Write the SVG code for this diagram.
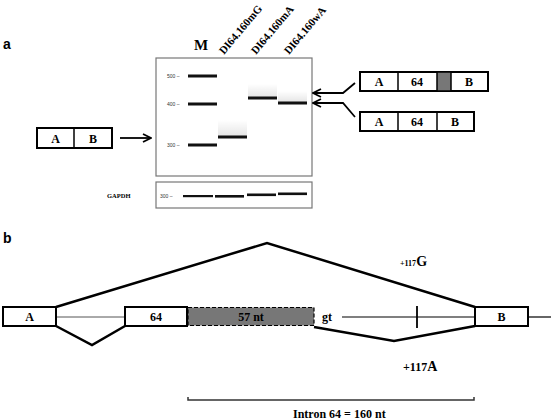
<svg xmlns="http://www.w3.org/2000/svg" width="553" height="420" viewBox="0 0 553 420">
<style>
.t{font-family:"Liberation Serif",serif;font-weight:bold;fill:#000}
.box{fill:#fff;stroke:#000;stroke-width:2}
.thin{stroke:#000;stroke-width:1.2;fill:none}
.th{stroke:#000;stroke-width:2.5;fill:none;stroke-linejoin:miter}
.band{fill:#111}
.lab{font-family:"Liberation Sans",sans-serif;font-weight:bold;font-size:14px}
.sm{font-family:"Liberation Sans",sans-serif;font-size:5px;fill:#333}
</style>
<defs>
<linearGradient id="smear" x1="0" y1="0" x2="0" y2="1">
<stop offset="0" stop-color="#000" stop-opacity="0"/>
<stop offset="1" stop-color="#000" stop-opacity="0.1"/>
</linearGradient>
<marker id="ah" markerWidth="10" markerHeight="10" refX="9" refY="5" orient="auto" markerUnits="userSpaceOnUse">
<path d="M1,1 L9,5 L1,9" fill="none" stroke="#000" stroke-width="1.8"/>
</marker>
</defs>
<rect width="553" height="420" fill="#fff"/>
<text class="lab" x="3" y="49">a</text>
<text class="lab" x="3" y="243">b</text>

<g id="gel">
<rect x="156" y="58" width="156" height="118" fill="#fff" stroke="#777" stroke-width="1.2"/>
<text class="sm" x="167" y="78">500 –</text>
<text class="sm" x="167" y="106">400 –</text>
<text class="sm" x="167" y="147">300 –</text>
<rect class="band" x="188" y="74.5" width="29" height="3"/>
<rect class="band" x="188" y="102.5" width="29" height="3"/>
<rect class="band" x="188" y="143.5" width="29" height="3"/>
<rect x="218" y="120" width="29" height="16" fill="url(#smear)"/>
<rect class="band" x="218" y="135.5" width="29" height="3"/>
<rect x="248" y="84" width="29" height="13" fill="url(#smear)"/>
<rect class="band" x="248" y="96.5" width="29" height="3"/>
<rect x="278" y="91" width="29" height="11" fill="url(#smear)"/>
<rect class="band" x="278" y="101.5" width="29" height="3"/>
<text class="t" x="194" y="50" font-size="15">M</text>
<text class="t" font-size="11" transform="translate(224,55) rotate(-50)">DI64.160mG</text>
<text class="t" font-size="11" transform="translate(256,55) rotate(-50)">DI64.160mA</text>
<text class="t" font-size="11" transform="translate(289,55) rotate(-50)">DI64.160wA</text>
</g>

<g id="gapdh">
<rect x="156" y="182" width="156" height="26" fill="#fff" stroke="#777" stroke-width="1.2"/>
<text class="t" x="107" y="198" font-size="6.5">GAPDH</text>
<text class="sm" x="160" y="198">300 –</text>
<rect class="band" x="183" y="195" width="30" height="2.2"/>
<rect class="band" x="215" y="195" width="29" height="2.6"/>
<rect class="band" x="247" y="193.5" width="29" height="2.6"/>
<rect class="band" x="278" y="192.5" width="29" height="2.6"/>
</g>

<g id="ab-left">
<rect class="box" x="37" y="128" width="75" height="20"/>
<line x1="74" y1="128" x2="74" y2="148" stroke="#000" stroke-width="1.5"/>
<text class="t" x="55.5" y="142.5" font-size="12" text-anchor="middle">A</text>
<text class="t" x="93" y="142.5" font-size="12" text-anchor="middle">B</text>
</g>

<g id="a64gb">
<rect class="box" x="360" y="72" width="128" height="19"/>
<rect x="437" y="72" width="14" height="19" fill="#777" stroke="#000" stroke-width="1.5"/>
<line x1="398" y1="72" x2="398" y2="91" stroke="#000" stroke-width="1.5"/>
<text class="t" x="379" y="86" font-size="12" text-anchor="middle">A</text>
<text class="t" x="417" y="86" font-size="12" text-anchor="middle">64</text>
<text class="t" x="469" y="86" font-size="12" text-anchor="middle">B</text>
</g>

<g id="a64b">
<rect class="box" x="360" y="112" width="114" height="19"/>
<line x1="398" y1="112" x2="398" y2="131" stroke="#000" stroke-width="1.5"/>
<line x1="437" y1="112" x2="437" y2="131" stroke="#000" stroke-width="1.5"/>
<text class="t" x="379" y="126" font-size="12" text-anchor="middle">A</text>
<text class="t" x="417" y="126" font-size="12" text-anchor="middle">64</text>
<text class="t" x="455" y="126" font-size="12" text-anchor="middle">B</text>
</g>

<g id="connectors">
<line x1="120" y1="138" x2="151" y2="138" stroke="#000" stroke-width="1.8" marker-end="url(#ah)"/>
<polyline points="355,83 343,93 313,93" fill="none" stroke="#000" stroke-width="1.8" marker-end="url(#ah)"/>
<polyline points="355,117 343,103 313,103" fill="none" stroke="#000" stroke-width="1.8" marker-end="url(#ah)"/>
<line x1="56" y1="317" x2="125" y2="317" stroke="#555" stroke-width="1"/>
<line x1="342" y1="317" x2="475" y2="317" class="thin" stroke-width="1"/>
<line x1="528" y1="317" x2="551" y2="317" class="thin" stroke-width="1"/>
<line x1="417" y1="306" x2="417" y2="328" stroke="#000" stroke-width="1.8"/>
<polyline class="th" points="56,307 267,243 475,307"/>
<polyline class="th" points="56,326 92,345 125,326"/>
<polyline class="th" points="314,327 394,341 475,326"/>
<polyline points="188,397 188,400 474,400 474,397" fill="none" stroke="#333" stroke-width="1.5"/>
</g>

<g id="exonA">
<rect class="box" x="3" y="307" width="53" height="19"/>
<text class="t" x="29.5" y="321" font-size="12" text-anchor="middle">A</text>
</g>
<g id="exon64">
<rect class="box" x="125" y="307" width="62" height="19"/>
<text class="t" x="156" y="321" font-size="12" text-anchor="middle">64</text>
</g>
<g id="ext57">
<rect x="188" y="307.5" width="126" height="18" fill="#777" stroke="#000" stroke-width="1.2" stroke-dasharray="4,2"/>
<text class="t" x="251" y="321" font-size="12" text-anchor="middle">57 nt</text>
</g>
<text class="t" x="322" y="321" font-size="12">gt</text>
<g id="exonB">
<rect class="box" x="475" y="307" width="53" height="19"/>
<text class="t" x="501.5" y="321" font-size="12" text-anchor="middle">B</text>
</g>
<text class="t" x="400" y="266"><tspan font-size="8">+117</tspan><tspan font-size="14">G</tspan></text>
<text class="t" x="403" y="371" font-size="12">+117<tspan font-size="14">A</tspan></text>
<text class="t" x="293" y="418" font-size="12">Intron 64 = 160 nt</text>
</svg>
